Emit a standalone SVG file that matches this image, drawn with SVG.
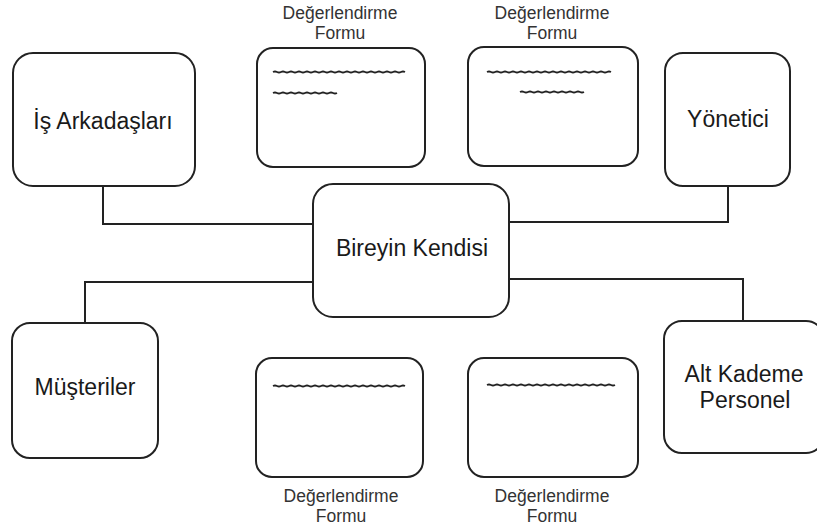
<svg xmlns="http://www.w3.org/2000/svg" width="817" height="531" viewBox="0 0 817 531">
<style>
.box{fill:#fff;stroke:#222;stroke-width:2}
.form{fill:#fff;stroke:#222;stroke-width:2}
.lbl{font-family:"Liberation Sans",Arial,sans-serif;font-size:23px;fill:#1a1a1a;text-anchor:middle}
.flbl{font-family:"Liberation Sans",Arial,sans-serif;font-size:17.5px;fill:#333;text-anchor:middle}
.conn{fill:none;stroke:#222;stroke-width:2}
.sq{fill:none;stroke:#222;stroke-width:1.8}
</style>
<rect width="817" height="531" fill="#fff"/>
<g id="connectors">
<polyline class="conn" points="103,186 103,224 313,224"/>
<polyline class="conn" points="728,186 728,222 509,222"/>
<polyline class="conn" points="85,323 85,282 313,282"/>
<polyline class="conn" points="743,321 743,279 509,279"/>
</g>
<g id="n-center">
<rect class="box" x="313" y="184" width="196" height="133" rx="20"/>
<text class="lbl" x="412" y="256">Bireyin Kendisi</text>
</g>
<g id="n-is">
<rect class="box" x="13" y="53" width="182" height="133" rx="20"/>
<text class="lbl" x="103" y="129">İş Arkadaşları</text>
</g>
<g id="n-yonetici">
<rect class="box" x="665" y="53" width="125" height="133" rx="18"/>
<text class="lbl" x="728" y="127">Yönetici</text>
</g>
<g id="n-musteri">
<rect class="box" x="12" y="323" width="146" height="135" rx="18"/>
<text class="lbl" x="85" y="395">Müşteriler</text>
</g>
<g id="n-alt">
<rect class="box" x="664" y="321" width="160" height="132" rx="18"/>
<text class="lbl" x="744" y="382">Alt Kademe</text>
<text class="lbl" x="745" y="408">Personel</text>
</g>
<g id="f1">
<text class="flbl" x="340" y="19">Değerlendirme</text>
<text class="flbl" x="340" y="39">Formu</text>
<rect class="form" x="257" y="48" width="168" height="119" rx="16"/>
<path class="sq" d="M273,72 q2,-1 4,0 t4,0 t4,0 t4,0 t4,0 t4,0 t4,0 t4,0 t4,0 t4,0 t4,0 t4,0 t4,0 t4,0 t4,0 t4,0 t4,0 t4,0 t4,0 t4,0 t4,0 t4,0 t4,0 t4,0 t4,0 t4,0 t4,0 t4,0 t4,0 t4,0 t4,0 t4,0 t4,0"/>
<path class="sq" d="M273,93 q2,-1 4,0 t4,0 t4,0 t4,0 t4,0 t4,0 t4,0 t4,0 t4,0 t4,0 t4,0 t4,0 t4,0 t4,0 t4,0 t4,0"/>
</g>
<g id="f2">
<text class="flbl" x="552" y="19">Değerlendirme</text>
<text class="flbl" x="552" y="39">Formu</text>
<rect class="form" x="468" y="47" width="170" height="119" rx="16"/>
<path class="sq" d="M487,72 q2,-1 4,0 t4,0 t4,0 t4,0 t4,0 t4,0 t4,0 t4,0 t4,0 t4,0 t4,0 t4,0 t4,0 t4,0 t4,0 t4,0 t4,0 t4,0 t4,0 t4,0 t4,0 t4,0 t4,0 t4,0 t4,0 t4,0 t4,0 t4,0 t4,0 t4,0 t4,0"/>
<path class="sq" d="M520,92 q2,-1 4,0 t4,0 t4,0 t4,0 t4,0 t4,0 t4,0 t4,0 t4,0 t4,0 t4,0 t4,0 t4,0 t4,0 t4,0 t4,0"/>
</g>
<g id="f3">
<rect class="form" x="256" y="358" width="167" height="119" rx="16"/>
<path class="sq" d="M273,386 q2,-1 4,0 t4,0 t4,0 t4,0 t4,0 t4,0 t4,0 t4,0 t4,0 t4,0 t4,0 t4,0 t4,0 t4,0 t4,0 t4,0 t4,0 t4,0 t4,0 t4,0 t4,0 t4,0 t4,0 t4,0 t4,0 t4,0 t4,0 t4,0 t4,0 t4,0 t4,0 t4,0 t4,0"/>
<text class="flbl" x="341" y="502">Değerlendirme</text>
<text class="flbl" x="341" y="522">Formu</text>
</g>
<g id="f4">
<rect class="form" x="468" y="358" width="170" height="119" rx="16"/>
<path class="sq" d="M487,385 q2,-1 4,0 t4,0 t4,0 t4,0 t4,0 t4,0 t4,0 t4,0 t4,0 t4,0 t4,0 t4,0 t4,0 t4,0 t4,0 t4,0 t4,0 t4,0 t4,0 t4,0 t4,0 t4,0 t4,0 t4,0 t4,0 t4,0 t4,0 t4,0 t4,0 t4,0 t4,0 t4,0"/>
<text class="flbl" x="552" y="502">Değerlendirme</text>
<text class="flbl" x="552" y="522">Formu</text>
</g>
</svg>
